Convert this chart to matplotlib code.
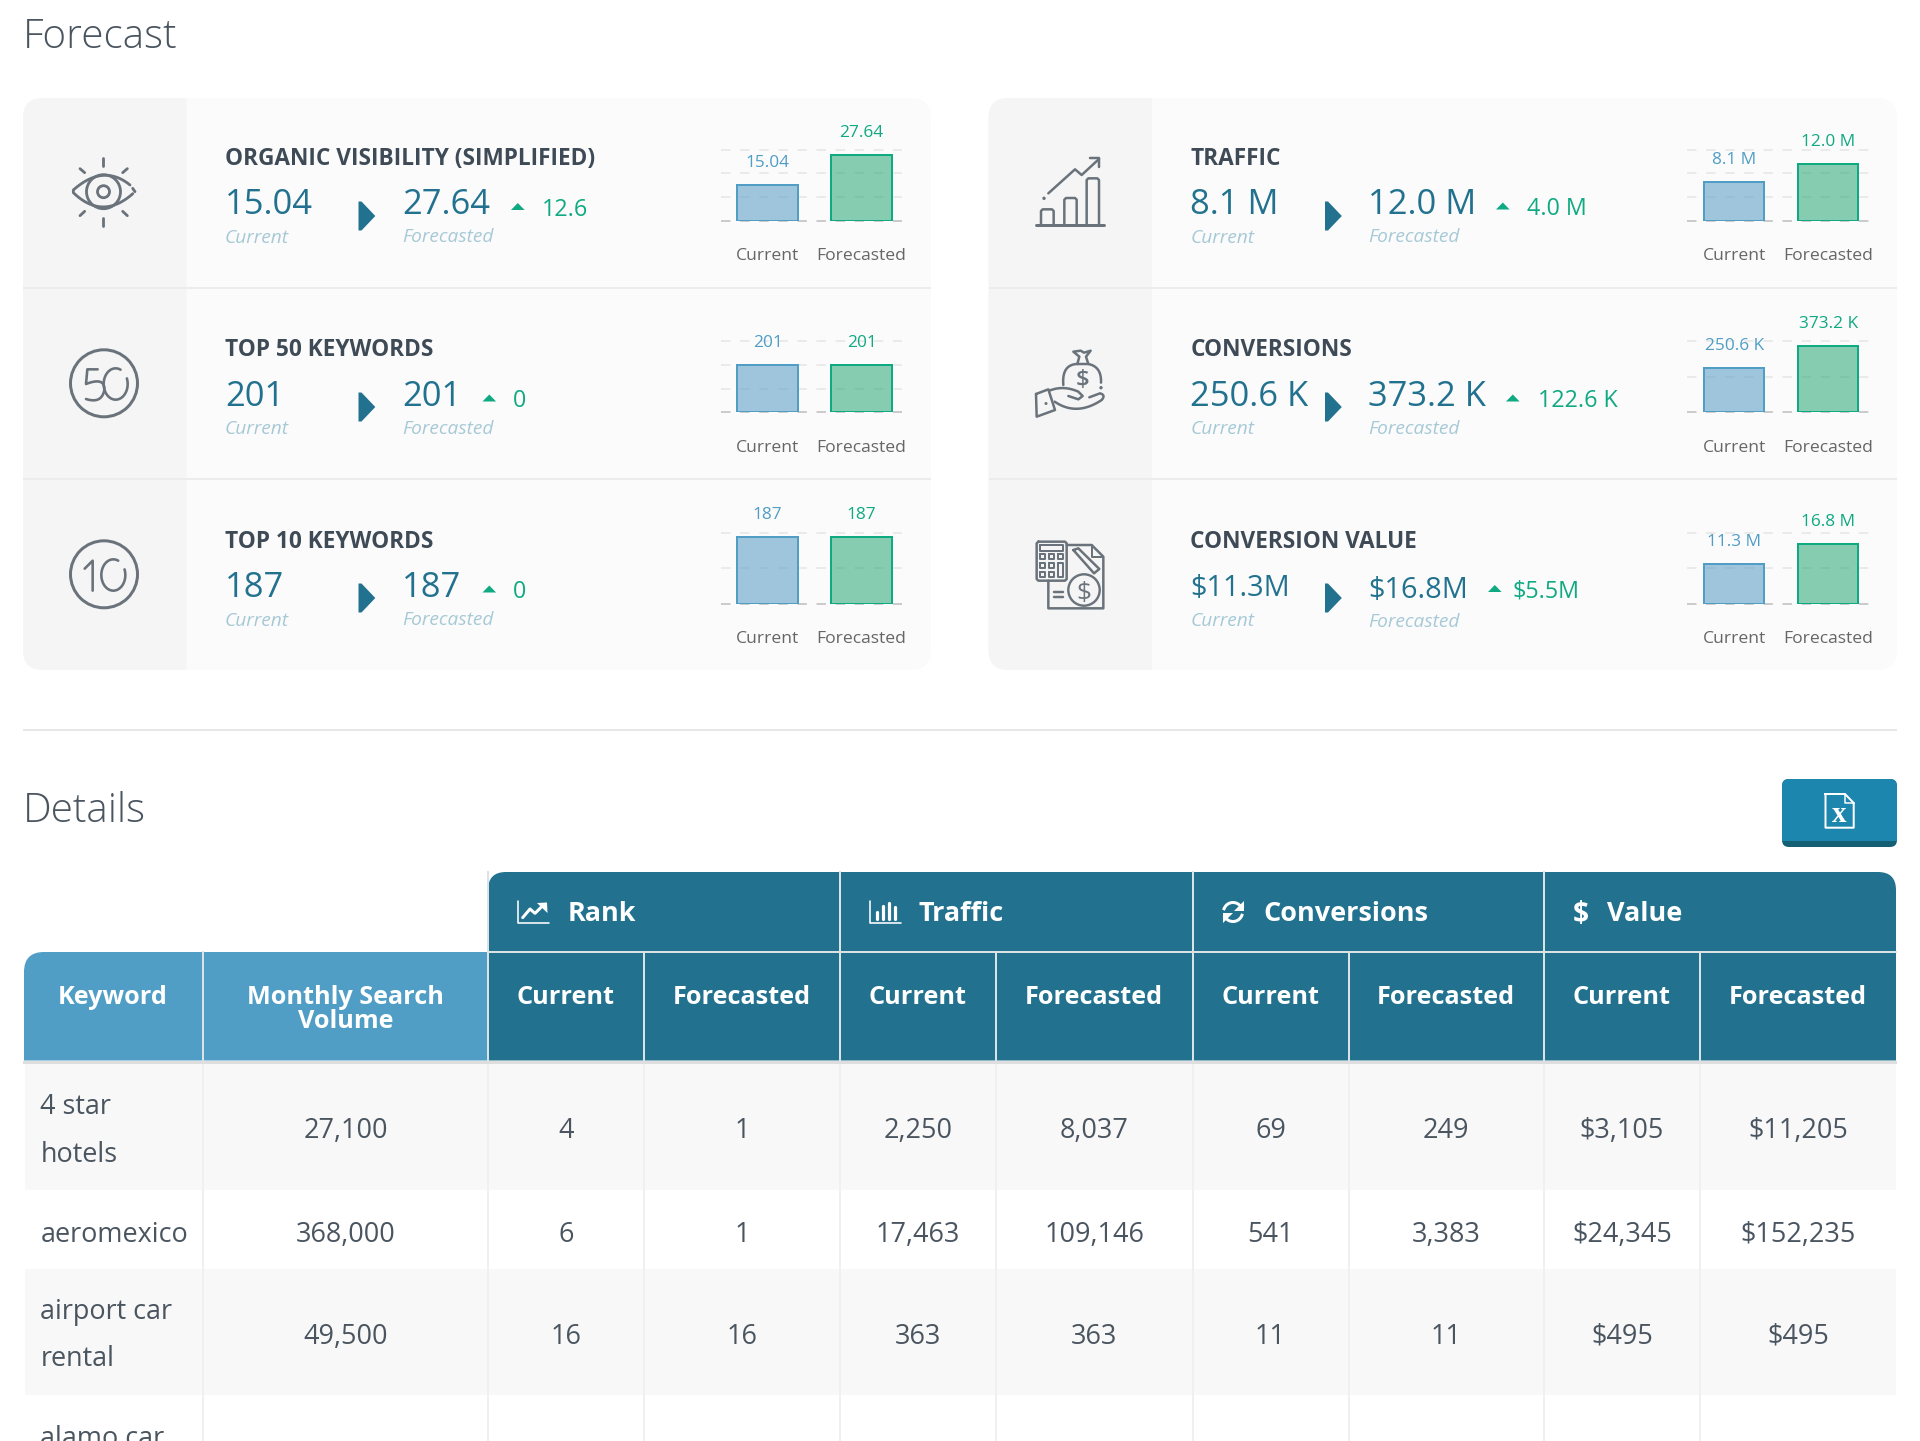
import numpy as np
import matplotlib
matplotlib.use("Agg")
import matplotlib.pyplot as plt
from matplotlib.path import Path
from matplotlib.patches import PathPatch, Rectangle, Circle, Polygon

plt.rcParams['font.family'] = ['Open Sans', 'DejaVu Sans']

# ---------- data ----------
metric_names = ["ORGANIC VISIBILITY (SIMPLIFIED)", "TOP 50 KEYWORDS", "TOP 10 KEYWORDS",
                "TRAFFIC", "CONVERSIONS", "CONVERSION VALUE"]
current_text = ["15.04", "201", "187", "8.1 M", "250.6 K", "$11.3M"]
forecast_text = ["27.64", "201", "187", "12.0 M", "373.2 K", "$16.8M"]
delta_text = ["12.6", "0", "0", "4.0 M", "122.6 K", "$5.5M"]
current_bar_text = ["15.04", "201", "187", "8.1 M", "250.6 K", "11.3 M"]
forecast_bar_text = ["27.64", "201", "187", "12.0 M", "373.2 K", "16.8 M"]
current_values = [15.04, 201, 187, 8.1, 250.6, 11.3]
forecast_values = [27.64, 201, 187, 12.0, 373.2, 16.8]
axis_ticks = [[0, 10, 20, 30], [0, 100, 200, 300], [0, 100, 200],
              [0, 5, 10, 15], [0, 200, 400], [0, 10, 20]]
bar_categories = ["Current", "Forecasted"]

group_names = ["Rank", "Traffic", "Conversions", "Value"]
sub_names = ["Current", "Forecasted"]
keywords = [["4 star", "hotels"], ["aeromexico"], ["airport car", "rental"], ["alamo car"]]
search_volume = ["27,100", "368,000", "49,500"]
rank_current = ["4", "6", "16"]
rank_forecast = ["1", "1", "16"]
traffic_current = ["2,250", "17,463", "363"]
traffic_forecast = ["8,037", "109,146", "363"]
conv_current = ["69", "541", "11"]
conv_forecast = ["249", "3,383", "11"]
value_current = ["$3,105", "$24,345", "$495"]
value_forecast = ["$11,205", "$152,235", "$495"]

# ---------- styles ----------
PX = 0.72
TEAL = '#22728F'; SKY = '#509EC6'; GREEN = '#0FA982'; DARK = '#3E4A56'
BODY = '#4A5560'; SOFT = '#A6C9D6'; ICON = '#6A737B'

fig = plt.figure(figsize=(19.2, 14.41), dpi=100, facecolor='white')
bg = fig.add_axes([0, 0, 1, 1], zorder=0)
bg.set_xlim(0, 1920); bg.set_ylim(1441, 0); bg.axis('off')


def rrect(x0, y0, x1, y1, tl=0, tr=0, br=0, bl=0):
    v = [(x0 + tl, y0), (x1 - tr, y0), (x1, y0), (x1, y0 + tr), (x1, y1 - br), (x1, y1), (x1 - br, y1),
         (x0 + bl, y1), (x0, y1), (x0, y1 - bl), (x0, y0 + tl), (x0, y0), (x0 + tl, y0), (x0 + tl, y0)]
    c = [Path.MOVETO, Path.LINETO, Path.CURVE3, Path.CURVE3, Path.LINETO, Path.CURVE3, Path.CURVE3,
         Path.LINETO, Path.CURVE3, Path.CURVE3, Path.LINETO, Path.CURVE3, Path.CURVE3, Path.CLOSEPOLY]
    return Path(v, c)


def fill(path, color, z=1):
    bg.add_patch(PathPatch(path, fc=color, ec='none', lw=0, zorder=z))


def T(x, y, s, px, color, ha='left', weight='normal', style='normal', z=5, **kw):
    bg.text(x, y, s, fontsize=px * PX, color=color, ha=ha, va='center_baseline',
            fontweight=weight, fontstyle=style, zorder=z, **kw)


def poly(pts, ox, oy, lw=2.5, color=ICON, closed=False, s=1 / 3, z=4):
    p = np.array(pts, dtype=float) * s + [ox, oy]
    if closed:
        p = np.vstack([p, p[0]])
    bg.plot(p[:, 0], p[:, 1], color=color, lw=lw * PX, solid_capstyle='round', solid_joinstyle='round', zorder=z)


# ---------- headings ----------
T(23, 33, "Forecast", 40.5, BODY, weight=300)
T(23, 806, "Details", 40.5, BODY, weight=300)
bg.add_patch(Rectangle((23, 729), 1874, 2, fc='#E6E6E6', ec='none', zorder=1))

# ---------- cards ----------
for x0, xi, x1 in [(23, 186.5, 931), (988.5, 1152, 1897)]:
    fill(rrect(x0, 98, x1, 670, 20, 20, 20, 20), '#FBFBFB', 1)
    fill(rrect(x0, 98, xi, 670, 20, 0, 0, 20), '#F5F5F5', 2)
    for yy in (287.5, 479):
        bg.add_patch(Rectangle((x0, yy - 1), x1 - x0, 2, fc='#ECECEC', ec='none', zorder=3))

layout = [
    dict(x=225, ty=156, vy=201, cy=236, fy=201, fly=235, ax=358.5, fx=402, tx=511, dx=541.5, dy=206.5, ay=216, vpx=34.5),
    dict(x=225, ty=347.5, vy=392.5, cy=427.5, fy=392.5, fly=426.5, ax=358.5, fx=402, tx=482.5, dx=513, dy=398, ay=407, vpx=34.5),
    dict(x=225, ty=539, vy=584, cy=619, fy=584, fly=618, ax=358.5, fx=402, tx=482.5, dx=513, dy=589, ay=598, vpx=34.5),
    dict(x=1190.5, ty=156, vy=201, cy=236, fy=201, fly=235, ax=1325, fx=1368.5, tx=1496, dx=1527, dy=206, ay=216, vpx=34.5),
    dict(x=1190.5, ty=347.5, vy=392.5, cy=427.5, fy=392.5, fly=426.5, ax=1325, fx=1368.5, tx=1506, dx=1538, dy=398, ay=407, vpx=34.5),
    dict(x=1190.5, ty=539, vy=585, cy=619, fy=586.5, fly=620, ax=1325, fx=1368.5, tx=1488, dx=1512, dy=588.5, ay=598, vpx=29),
]
chart_geo = [(720.7, 220.7), (720.7, 412.3), (720.7, 603.7), (1687.3, 220.7), (1687.3, 412.0), (1687.3, 603.7)]

for i, L in enumerate(layout):
    T(L['x'], L['ty'], metric_names[i], 22.6, DARK, weight='bold')
    T(L['x'], L['vy'], current_text[i], L['vpx'], TEAL)
    T(L['x'], L['cy'], "Current", 19.2, SOFT, style='italic')
    T(L['fx'], L['fy'], forecast_text[i], L['vpx'], TEAL)
    T(L['fx'], L['fly'], "Forecasted", 19.2, SOFT, style='italic')
    bg.add_patch(Polygon([(L['ax'], L['ay'] - 14.5), (L['ax'] + 3, L['ay'] - 14.5), (L['ax'] + 16.8, L['ay']),
                          (L['ax'] + 3, L['ay'] + 14.5), (L['ax'], L['ay'] + 14.5)], fc=TEAL, ec='none', zorder=4))
    tx = L['tx']; ty = L['dy']
    bg.add_patch(Polygon([(tx, ty + 3.5), (tx + 13.6, ty + 3.5), (tx + 6.8, ty - 3.5)], fc=GREEN, ec='none', zorder=4))
    T(L['dx'], L['dy'], delta_text[i], 23.3, GREEN)

    # mini bar chart
    gx, base = chart_geo[i]
    H = 71.0; W = 181.3
    ax = fig.add_axes([gx / 1920, 1 - base / 1441, W / 1920, H / 1441], zorder=3)
    ax.patch.set_alpha(0)
    ax.set_xlim(-46.8 / 94, 1 + 40.5 / 94)
    ticks = axis_ticks[i]
    ax.set_ylim(0, ticks[-1])
    for s in ax.spines.values():
        s.set_visible(False)
    ax.set_yticks(ticks)
    ax.set_xticks([0, 1], bar_categories)
    ax.tick_params(axis='y', length=0, labelleft=False)
    ax.tick_params(axis='x', length=0, pad=35.5 * PX, labelsize=17.5 * PX, labelcolor='#666666')
    for lab in ax.get_xticklabels():
        lab.set_va('center')
    ax.set_axisbelow(True)
    lw = 1.1
    ax.grid(axis='y', color='#E6E6E6', lw=lw, linestyle=(0, (6.2, 6.3)))
    ax.grid(axis='x', visible=False)
    for g in ax.get_ygridlines():
        g.set_clip_on(False)
    ax.get_ygridlines()[0].set_color('#BDBDBD')
    ax.bar([0], [current_values[i]], width=0.643, facecolor=(0.329, 0.605, 0.764, 0.55), edgecolor=SKY, lw=2 * PX)
    ax.bar([1], [forecast_values[i]], width=0.643, facecolor=(0.066, 0.624, 0.412, 0.5), edgecolor=GREEN, lw=2 * PX)
    ax.annotate(current_bar_text[i], (0, current_values[i]), xytext=(0, 22 * PX), textcoords='offset points',
                ha='center', va='center', fontsize=17.2 * PX, color=SKY, annotation_clip=False)
    ax.annotate(forecast_bar_text[i], (1, forecast_values[i]), xytext=(0, 22 * PX), textcoords='offset points',
                ha='center', va='center', fontsize=17.2 * PX, color=GREEN, annotation_clip=False)

# ---------- icons ----------
ox, oy = 50, 140
t = np.linspace(0, 1, 30)
def bez(p0, p1, p2):
    p0, p1, p2 = map(np.array, (p0, p1, p2))
    return [tuple((1 - a) ** 2 * p0 + 2 * a * (1 - a) * p1 + a * a * p2) for a in t]
poly(bez((240, 135), (160, 70), (70, 150)) + [(70, 158)] + bez((70, 158), (160, 245), (255, 155))[:-1], ox, oy, lw=2.8)
poly([(255, 155), (248, 145)], ox, oy, lw=2.8)
bg.add_patch(Circle((103.5, 191.7), 17, fc='none', ec=ICON, lw=2.8 * PX, zorder=4))
bg.add_patch(Circle((103.5, 191.7), 6, fc='none', ec=ICON, lw=2.8 * PX, zorder=4))
for seg in [[(160, 55), (160, 78)], [(160, 235), (160, 257)], [(90, 86), (104, 98)], [(232, 86), (218, 98)],
            [(90, 227), (104, 214)], [(232, 227), (218, 214)]]:
    poly(seg, ox, oy, lw=2.8)
bg.add_patch(Circle((104, 383.3), 33.5, fc='none', ec=ICON, lw=3 * PX, zorder=4))
bg.add_patch(Circle((104, 574.3), 33.5, fc='none', ec=ICON, lw=3 * PX, zorder=4))
ox, oy = 50, 330
poly([(143, 118), (112, 118), (108, 162)] + bez((108, 162), (165, 140), (163, 180))[1:] + bez((163, 180), (155, 222), (108, 207))[1:], ox, oy, lw=2.6)
a = np.radians(np.linspace(-80, 235, 60))
poly(list(zip(197 + 36 * np.sin(a + 2.6), 162 - 47 * np.cos(a + 2.6))), ox, oy, lw=2.6)
poly([(104, 716), (128, 692), (128, 782)], ox, oy, lw=2.6)
poly(list(zip(190 + 36 * np.sin(a + 2.6), 735 - 47 * np.cos(a + 2.6))), ox, oy, lw=2.6)
ox, oy = 1020, 140
poly([(48, 255), (252, 255)], ox, oy, lw=3)
for a0, a1, top in [(63, 101, 208), (133, 170, 174), (200, 237, 115)]:
    poly([(a0, 255), (a0, top + 5), (a0 + 5, top), (a1 - 5, top), (a1, top + 5), (a1, 255)], ox, oy)
poly([(85, 160), (165, 88), (185, 105), (237, 57)], ox, oy)
poly([(210, 55), (238, 55), (238, 82)], ox, oy)
bg.add_patch(Circle((1020 + 24, 140 + 58.3), 1.7, fc=ICON, ec='none', zorder=4))
poly([(48, 762), (85, 748), (105, 810), (50, 830)], ox, oy, closed=True)
poly([(88, 752)] + bez((88, 752), (130, 735), (175, 755))[1:] + [(188, 768), (175, 778), (145, 768)], ox, oy)
poly(bez((104, 785), (170, 830), (245, 780)) + bez((245, 780), (258, 765), (240, 760))[1:] + [(208, 772)], ox, oy)
poly([(130, 735)] + bez((130, 735), (125, 675), (170, 672))[1:], ox, oy)
poly(bez((205, 672), (245, 680), (243, 728)), ox, oy)
poly([(172, 672), (205, 672), (198, 650), (212, 632), (192, 638), (182, 632), (160, 635), (178, 650)], ox, oy, closed=True)
bg.add_patch(Circle((1020 + 81, 140 + 247.7), 1.7, fc=ICON, ec='none', zorder=4))
bg.add_patch(Circle((1020 + 26, 140 + 263.5), 1.5, fc=ICON, ec='none', zorder=4))
T(1020 + 62.5, 140 + 238.5, "$", 24, ICON, ha='center', weight=600)
poly([(55, 1205), (135, 1205), (140, 1210), (140, 1317), (135, 1322), (55, 1322), (50, 1317), (50, 1210)], ox, oy, closed=True)
poly([(60, 1215), (130, 1215), (130, 1232), (60, 1232)], ox, oy, closed=True, lw=2)
for cx in (60, 88, 115):
    for ry in (1243, 1270, 1297):
        if cx == 115 and ry != 1243:
            continue
        poly([(cx, ry), (cx + 15, ry), (cx + 15, ry + 14), (cx, ry + 14)], ox, oy, closed=True, lw=2)
poly([(115, 1270), (130, 1270), (130, 1312), (115, 1312)], ox, oy, closed=True, lw=2)
poly([(140, 1215), (215, 1215), (250, 1250), (250, 1405), (85, 1405), (85, 1322)], ox, oy)
poly([(215, 1215), (215, 1250), (250, 1250)], ox, oy, lw=2)
bg.add_patch(Circle((1020 + 64, 140 + 450), 15.7, fc='#F5F5F5', ec=ICON, lw=2.4 * PX, zorder=4))
T(1020 + 64, 140 + 450, "$", 26, ICON, ha='center')
poly([(103, 1355), (128, 1355)], ox, oy); poly([(103, 1371), (128, 1371)], ox, oy)
poly([(160, 1230), (222, 1300), (238, 1287), (175, 1225), (160, 1230)], ox, oy)

# ---------- export button ----------
fill(rrect(1782, 779, 1897, 847, 7, 7, 7, 7), '#155F75', 2)
fill(rrect(1782, 779, 1897, 841, 7, 7, 0, 0), '#1C86AE', 3)
W_ = 'white'
p = np.array([(1825.5, 794), (1845, 794), (1853.7, 803), (1853.7, 827.7), (1825.5, 827.7), (1825.5, 794)])
bg.plot(p[:, 0], p[:, 1], color=W_, lw=2 * PX, zorder=4)
bg.plot([1845, 1845, 1853.7], [794, 803, 803], color=W_, lw=1.5 * PX, zorder=4)
bg.text(1839.5, 814, "x", fontsize=29 * PX, color=W_, ha='center', va='center', family='Liberation Serif', fontweight='bold', zorder=5)

# ---------- table ----------
XS = [24, 203, 488, 644, 840, 996, 1192.5, 1348.5, 1544, 1700, 1896]
HD_Y0, HD_Y1, HD_Y2, HD_Y3 = 872, 952, 1060.5, 1064
fill(rrect(XS[2], HD_Y0, XS[10], HD_Y2, 18, 18, 0, 0), TEAL, 2)
fill(rrect(XS[0], HD_Y1, XS[2], HD_Y2, 20, 0, 0, 0), SKY, 2)
bg.add_patch(Rectangle((XS[0] - 1, HD_Y2), XS[10] - XS[0] + 2, HD_Y3 - HD_Y2, fc='#DEDEDE', ec='none', zorder=3))
LINE = '#DCE3E6'
bg.plot([XS[2], XS[10]], [HD_Y1, HD_Y1], color=LINE, lw=2 * PX, zorder=3)
for xx in [XS[2], XS[4], XS[6], XS[8]]:
    bg.plot([xx, xx], [HD_Y0, HD_Y2], color=LINE, lw=2 * PX, zorder=3)
for xx in [XS[1], XS[3], XS[5], XS[7], XS[9]]:
    bg.plot([xx, xx], [HD_Y1, HD_Y2], color=LINE, lw=2 * PX, zorder=3)

T(113, 994, "Keyword", 25.2, 'white', ha='center', weight='bold')
T(345.5, 994, "Monthly Search", 25.2, 'white', ha='center', weight='bold')
T(345.5, 1019, "Volume", 25.2, 'white', ha='center', weight='bold')
for j in range(8):
    T((XS[2 + j] + XS[3 + j]) / 2, 994, sub_names[j % 2], 25.2, 'white', ha='center', weight='bold')
for nm, xx in zip(group_names, [568, 918.5, 1263.5, 1607]):
    T(xx, 911, nm, 27, 'white', weight='bold')

ox, oy = 500, 870
poly([(55, 92), (55, 158), (147, 158)], ox, oy, color='white', lw=1.6)
poly([(68, 143), (90, 117), (105, 130), (130, 105)], ox, oy, color='white', lw=3)
bg.add_patch(Polygon([(500 + 47, 870 + 32.5), (500 + 47.5, 870 + 43), (500 + 37, 870 + 33)], fc='white', ec='none', zorder=5))
poly([(1110, 92), (1110, 158), (1203, 158)], ox, oy, color='white', lw=1.6)
for bx, top in [(1131, 125), (1148, 108), (1166, 100), (1184, 112)]:
    poly([(bx, top), (bx, 148)], ox, oy, color='white', lw=3.2)
cx, cy, r = 1233, 912, 9.5
for a0, a1 in [(200, 330), (20, 150)]:
    a = np.radians(np.linspace(a0, a1, 20))
    bg.plot(cx + r * np.cos(a), cy + r * np.sin(a), color='white', lw=3 * PX, zorder=5)
bg.add_patch(Polygon([(1243.5, 901), (1243.5, 911), (1233.5, 911)], fc='white', ec='none', zorder=5))
bg.add_patch(Polygon([(1222.5, 923), (1222.5, 913), (1232.5, 913)], fc='white', ec='none', zorder=5))
T(1581, 911, "$", 28, 'white', ha='center', weight='bold')

ROWS = [1064, 1190, 1268.7, 1395, 1441]
for k in range(4):
    bg.add_patch(Rectangle((25, ROWS[k]), 1871, ROWS[k + 1] - ROWS[k], fc='#F8F8F8' if k % 2 == 0 else 'white', ec='none', zorder=1))
for xx in XS[1:10]:
    bg.plot([xx, xx], [1064, 1441], color='#F0F0F0', lw=2 * PX, zorder=2)
kw_y = [[1104, 1152], [1231], [1308.5, 1356], [1436]]
for lines, ys in zip(keywords, kw_y):
    for s, yy in zip(lines, ys):
        T(40.5, yy, s, 27, BODY)
columns = [search_volume, rank_current, rank_forecast, traffic_current, traffic_forecast,
           conv_current, conv_forecast, value_current, value_forecast]
row_y = [1128, 1231, 1333]
col_cx = [(XS[i] + XS[i + 1]) / 2 for i in range(1, 10)]
for col, cxx in zip(columns, col_cx):
    for s, yy in zip(col, row_y):
        T(cxx, yy, s, 27, BODY, ha='center')

fig.savefig('out.png', dpi=100, facecolor='white')
